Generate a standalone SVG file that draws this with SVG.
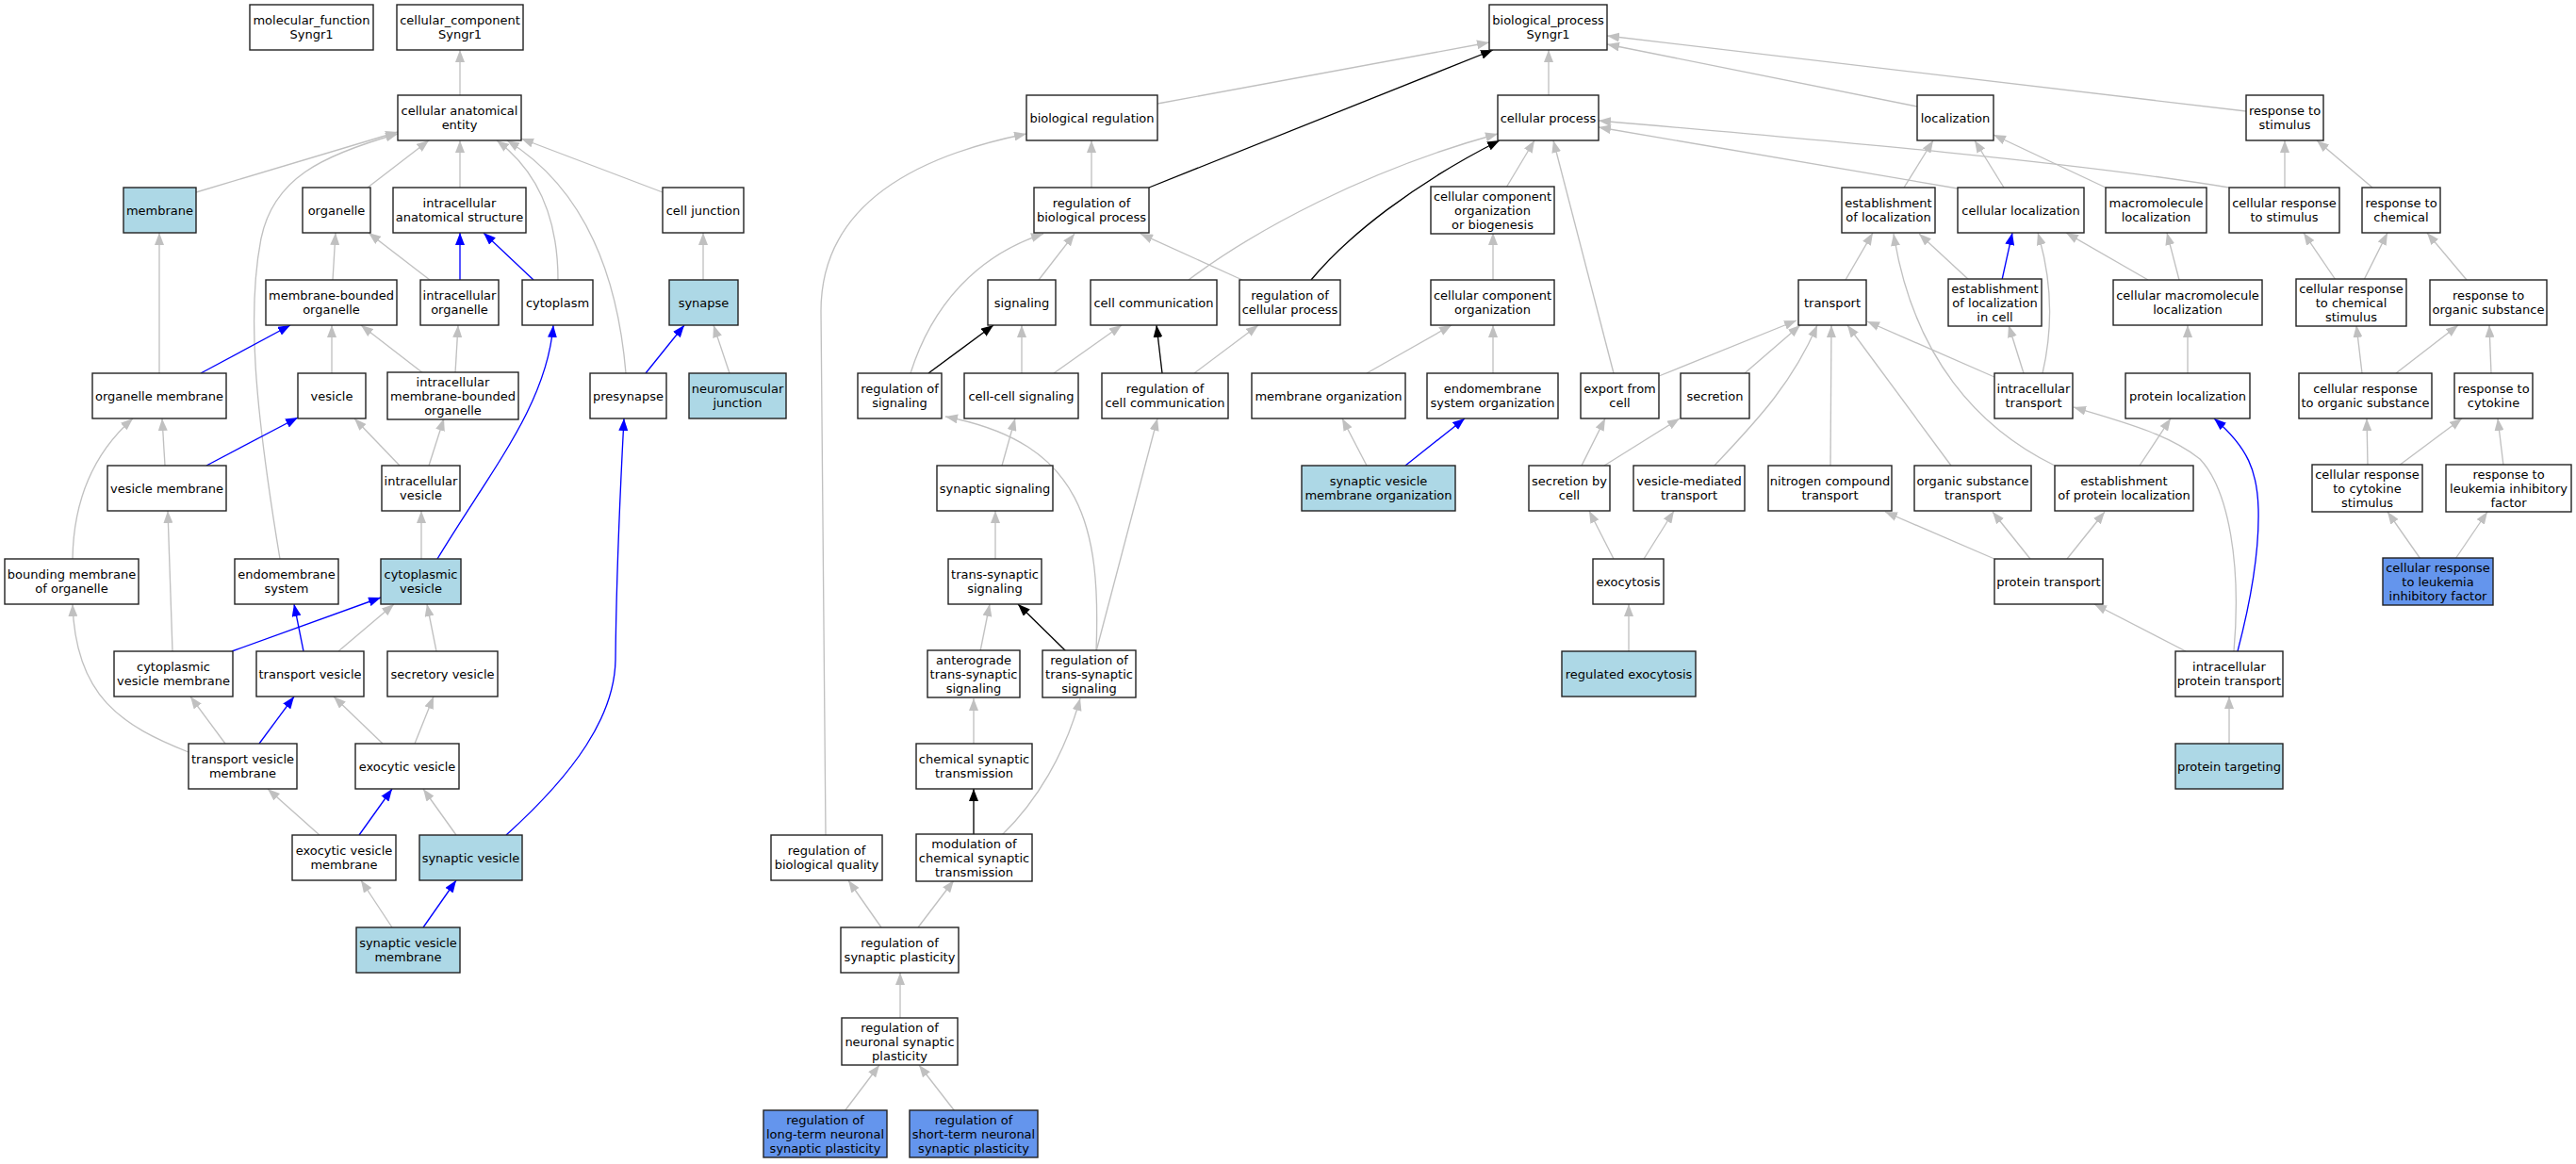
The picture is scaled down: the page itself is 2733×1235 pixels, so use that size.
<svg xmlns="http://www.w3.org/2000/svg" width="2733" height="1235" viewBox="0 0 2733 1235">
<style>
.n rect{fill:#fff;stroke:#222;stroke-width:1.4}
.lb rect{fill:#ADD8E6}
.cb rect{fill:#6495ED}
text{font-family:"DejaVu Sans",Verdana,sans-serif;font-size:13px;text-anchor:middle;fill:#000}
#edges path{fill:none;stroke-width:1.33}
#edges .g{stroke:#C0C0C0;marker-end:url(#ag)}
#edges .b{stroke:#0000FF;marker-end:url(#ab)}
#edges .k{stroke:#000;marker-end:url(#ak)}
</style>
<defs>
<marker id="ag" markerUnits="userSpaceOnUse" markerWidth="13" markerHeight="10" viewBox="0 0 13 10" refX="13" refY="5" orient="auto"><path d="M0,0L13,5L0,10z" fill="#C0C0C0"/></marker>
<marker id="ab" markerUnits="userSpaceOnUse" markerWidth="13" markerHeight="10" viewBox="0 0 13 10" refX="13" refY="5" orient="auto"><path d="M0,0L13,5L0,10z" fill="#0000FF"/></marker>
<marker id="ak" markerUnits="userSpaceOnUse" markerWidth="13" markerHeight="10" viewBox="0 0 13 10" refX="13" refY="5" orient="auto"><path d="M0,0L13,5L0,10z" fill="#000"/></marker>
</defs>
<rect width="2733" height="1235" fill="#fff"/>
<g id="edges">
<path class="g" d="M488,101L488,53"/>
<path class="g" d="M208,204L422,140"/>
<path class="g" d="M297,593C270,430 262,330 277,253C290,190 340,165 422,142"/>
<path class="g" d="M390,199L455,149"/>
<path class="g" d="M488,199L488,149"/>
<path class="g" d="M592,297C592,240 575,185 527,149"/>
<path class="g" d="M664,396C655,290 620,200 538,149"/>
<path class="g" d="M703,204L553,147"/>
<path class="g" d="M353,297L356,247"/>
<path class="g" d="M456,297L391,247"/>
<path class="b" d="M488,297L488,247"/>
<path class="b" d="M566,297L513,247"/>
<path class="g" d="M169,396L169,247"/>
<path class="b" d="M213,396L308,345"/>
<path class="g" d="M352,396L352,345"/>
<path class="g" d="M449,396L383,345"/>
<path class="g" d="M483,396L486,345"/>
<path class="g" d="M746,297L746,247"/>
<path class="b" d="M685,396L726,345"/>
<path class="g" d="M774,396L757,345"/>
<path class="b" d="M464,593C520,500 580,430 587,345"/>
<path class="g" d="M175,494L172,444"/>
<path class="b" d="M219,494L316,443"/>
<path class="g" d="M77,593C78,530 100,480 141,444"/>
<path class="g" d="M424,494L376,444"/>
<path class="g" d="M455,494L471,444"/>
<path class="g" d="M447,593L447,542"/>
<path class="g" d="M183,691L178,542"/>
<path class="b" d="M246,691L404,634"/>
<path class="b" d="M322,691L312,641"/>
<path class="g" d="M359,691L418,641"/>
<path class="g" d="M463,691L453,641"/>
<path class="g" d="M200,798C130,770 80,740 77,641"/>
<path class="g" d="M239,789L202,739"/>
<path class="b" d="M275,789L312,739"/>
<path class="g" d="M406,789L354,739"/>
<path class="g" d="M440,789L460,739"/>
<path class="g" d="M339,886L284,837"/>
<path class="b" d="M381,886L416,837"/>
<path class="g" d="M484,886L449,837"/>
<path class="b" d="M537,886C610,820 652,760 653,700C654,600 658,520 662,444"/>
<path class="g" d="M416,984L383,934"/>
<path class="b" d="M449,984L484,934"/>
<path class="g" d="M1228,110L1580,45"/>
<path class="k" d="M1219,199L1584,53"/>
<path class="g" d="M1643,101L1643,53"/>
<path class="g" d="M2034,113L1705,47"/>
<path class="g" d="M2383,118L1705,38"/>
<path class="g" d="M1158,199L1158,149"/>
<path class="g" d="M876,886L871,330C871,230 950,170 1089,142"/>
<path class="g" d="M966,396C990,320 1040,270 1107,248"/>
<path class="g" d="M1102,297L1140,248"/>
<path class="g" d="M1318,297L1210,248"/>
<path class="g" d="M1261,297C1330,245 1450,180 1589,142"/>
<path class="k" d="M1391,297C1430,250 1500,195 1591,149"/>
<path class="g" d="M1598,199L1628,149"/>
<path class="g" d="M1712,396L1648,149"/>
<path class="g" d="M2077,200L1696,135"/>
<path class="g" d="M2365,199C2200,172 1950,150 1696,128"/>
<path class="g" d="M2020,199L2051,149"/>
<path class="g" d="M2126,199L2095,149"/>
<path class="g" d="M2234,199L2115,143"/>
<path class="g" d="M2424,199L2424,149"/>
<path class="g" d="M2517,199L2458,149"/>
<path class="g" d="M1584,297L1584,247"/>
<path class="g" d="M1450,396L1540,345"/>
<path class="g" d="M1584,396L1584,345"/>
<path class="g" d="M1958,297L1987,247"/>
<path class="g" d="M2089,297L2036,248"/>
<path class="b" d="M2124,297L2135,247"/>
<path class="g" d="M2167,396C2180,340 2175,290 2162,247"/>
<path class="g" d="M2116,400L1981,341"/>
<path class="g" d="M2147,396L2131,345"/>
<path class="g" d="M2180,494C2100,455 2030,380 2009,248"/>
<path class="g" d="M2279,297L2192,247"/>
<path class="g" d="M2312,297L2299,247"/>
<path class="g" d="M2478,297L2444,247"/>
<path class="g" d="M2508,297L2533,247"/>
<path class="g" d="M2617,297L2575,247"/>
<path class="g" d="M2321,396L2321,345"/>
<path class="g" d="M2506,396L2500,345"/>
<path class="g" d="M2542,396L2608,345"/>
<path class="g" d="M2643,396L2641,345"/>
<path class="k" d="M985,396L1054,345"/>
<path class="g" d="M1084,396L1084,345"/>
<path class="g" d="M1118,396L1190,345"/>
<path class="k" d="M1233,396L1227,345"/>
<path class="g" d="M1267,396L1335,345"/>
<path class="g" d="M1063,494L1077,444"/>
<path class="g" d="M1163,691C1168,560 1150,470 1003,442"/>
<path class="g" d="M1163,691L1228,444"/>
<path class="g" d="M1056,593L1056,542"/>
<path class="g" d="M1040,691L1050,641"/>
<path class="k" d="M1131,691L1080,641"/>
<path class="g" d="M1033,789L1033,741"/>
<path class="k" d="M1033,886L1033,837"/>
<path class="g" d="M1063,886C1100,850 1130,800 1146,741"/>
<path class="g" d="M935,984L900,934"/>
<path class="g" d="M974,984L1012,934"/>
<path class="g" d="M955,1081L955,1032"/>
<path class="g" d="M896,1179L933,1130"/>
<path class="g" d="M1013,1179L975,1130"/>
<path class="g" d="M1760,399L1906,340"/>
<path class="g" d="M1851,396L1910,345"/>
<path class="g" d="M1819,494C1860,450 1900,410 1928,345"/>
<path class="g" d="M1942,494L1943,345"/>
<path class="g" d="M2070,494L1960,345"/>
<path class="g" d="M1678,494L1703,444"/>
<path class="g" d="M1702,494L1782,444"/>
<path class="g" d="M1712,593L1686,542"/>
<path class="g" d="M1744,593L1776,542"/>
<path class="g" d="M1728,691L1728,641"/>
<path class="g" d="M1450,494L1424,444"/>
<path class="b" d="M1491,494L1554,444"/>
<path class="g" d="M2116,593L2000,543"/>
<path class="g" d="M2154,593L2114,543"/>
<path class="g" d="M2193,593L2233,543"/>
<path class="g" d="M2270,494L2303,444"/>
<path class="g" d="M2319,691L2222,641"/>
<path class="g" d="M2370,691C2378,600 2365,520 2334,487C2300,460 2250,447 2200,432"/>
<path class="b" d="M2374,691C2390,630 2397,580 2396,540C2395,500 2385,475 2349,444"/>
<path class="g" d="M2365,789L2365,739"/>
<path class="g" d="M2512,494L2511,444"/>
<path class="g" d="M2545,494L2612,444"/>
<path class="g" d="M2656,494L2650,444"/>
<path class="g" d="M2568,593L2533,543"/>
<path class="g" d="M2605,593L2639,543"/>
</g>
<g id="mf" class="n"><rect x="265" y="5" width="131" height="48"/><text x="330.5" y="26.1">molecular_function</text><text x="330.5" y="41.1">Syngr1</text></g>
<g id="cc" class="n"><rect x="421" y="5" width="134" height="48"/><text x="488" y="26.1">cellular_component</text><text x="488" y="41.1">Syngr1</text></g>
<g id="cae" class="n"><rect x="422" y="101" width="131" height="48"/><text x="487.5" y="122.1">cellular anatomical</text><text x="487.5" y="137.1">entity</text></g>
<g id="membrane" class="n lb"><rect x="131" y="199" width="77" height="48"/><text x="169.5" y="227.6">membrane</text></g>
<g id="organelle" class="n"><rect x="321" y="199" width="72" height="48"/><text x="357" y="227.6">organelle</text></g>
<g id="ias" class="n"><rect x="417" y="199" width="141" height="48"/><text x="487.5" y="220.1">intracellular</text><text x="487.5" y="235.1">anatomical structure</text></g>
<g id="cj" class="n"><rect x="703" y="199" width="86" height="48"/><text x="746" y="227.6">cell junction</text></g>
<g id="mbo" class="n"><rect x="282" y="297" width="139" height="48"/><text x="351.5" y="318.1">membrane-bounded</text><text x="351.5" y="333.1">organelle</text></g>
<g id="io" class="n"><rect x="446" y="297" width="83" height="48"/><text x="487.5" y="318.1">intracellular</text><text x="487.5" y="333.1">organelle</text></g>
<g id="cyto" class="n"><rect x="554" y="297" width="75" height="48"/><text x="591.5" y="325.6">cytoplasm</text></g>
<g id="synapse" class="n lb"><rect x="710" y="297" width="73" height="48"/><text x="746.5" y="325.6">synapse</text></g>
<g id="om" class="n"><rect x="98" y="396" width="142" height="48"/><text x="169" y="424.6">organelle membrane</text></g>
<g id="vesicle" class="n"><rect x="316" y="396" width="72" height="48"/><text x="352" y="424.6">vesicle</text></g>
<g id="imbo" class="n"><rect x="411" y="395" width="139" height="50"/><text x="480.5" y="409.6">intracellular</text><text x="480.5" y="424.6">membrane-bounded</text><text x="480.5" y="439.6">organelle</text></g>
<g id="presyn" class="n"><rect x="626" y="396" width="81" height="48"/><text x="666.5" y="424.6">presynapse</text></g>
<g id="nmj" class="n lb"><rect x="731" y="396" width="103" height="48"/><text x="782.5" y="417.1">neuromuscular</text><text x="782.5" y="432.1">junction</text></g>
<g id="vm" class="n"><rect x="114" y="494" width="126" height="48"/><text x="177" y="522.6">vesicle membrane</text></g>
<g id="iv" class="n"><rect x="405" y="494" width="83" height="48"/><text x="446.5" y="515.1">intracellular</text><text x="446.5" y="530.1">vesicle</text></g>
<g id="bmo" class="n"><rect x="5" y="593" width="142" height="48"/><text x="76" y="614.1">bounding membrane</text><text x="76" y="629.1">of organelle</text></g>
<g id="es" class="n"><rect x="249" y="593" width="110" height="48"/><text x="304" y="614.1">endomembrane</text><text x="304" y="629.1">system</text></g>
<g id="cv" class="n lb"><rect x="404" y="593" width="85" height="48"/><text x="446.5" y="614.1">cytoplasmic</text><text x="446.5" y="629.1">vesicle</text></g>
<g id="cvm" class="n"><rect x="121" y="691" width="126" height="48"/><text x="184" y="712.1">cytoplasmic</text><text x="184" y="727.1">vesicle membrane</text></g>
<g id="tv" class="n"><rect x="272" y="691" width="114" height="48"/><text x="329" y="719.6">transport vesicle</text></g>
<g id="sv" class="n"><rect x="411" y="691" width="117" height="48"/><text x="469.5" y="719.6">secretory vesicle</text></g>
<g id="tvm" class="n"><rect x="200" y="789" width="115" height="48"/><text x="257.5" y="810.1">transport vesicle</text><text x="257.5" y="825.1">membrane</text></g>
<g id="ev" class="n"><rect x="377" y="789" width="110" height="48"/><text x="432" y="817.6">exocytic vesicle</text></g>
<g id="evm" class="n"><rect x="310" y="886" width="110" height="48"/><text x="365" y="907.1">exocytic vesicle</text><text x="365" y="922.1">membrane</text></g>
<g id="synv" class="n lb"><rect x="445" y="886" width="109" height="48"/><text x="499.5" y="914.6">synaptic vesicle</text></g>
<g id="svm" class="n lb"><rect x="378" y="984" width="110" height="48"/><text x="433" y="1005.1">synaptic vesicle</text><text x="433" y="1020.1">membrane</text></g>
<g id="bp" class="n"><rect x="1580" y="5" width="125" height="48"/><text x="1642.5" y="26.1">biological_process</text><text x="1642.5" y="41.1">Syngr1</text></g>
<g id="br" class="n"><rect x="1089" y="101" width="139" height="48"/><text x="1158.5" y="129.6">biological regulation</text></g>
<g id="cp" class="n"><rect x="1589" y="101" width="107" height="48"/><text x="1642.5" y="129.6">cellular process</text></g>
<g id="loc" class="n"><rect x="2034" y="101" width="81" height="48"/><text x="2074.5" y="129.6">localization</text></g>
<g id="rts" class="n"><rect x="2383" y="101" width="82" height="48"/><text x="2424" y="122.1">response to</text><text x="2424" y="137.1">stimulus</text></g>
<g id="rbp" class="n"><rect x="1097" y="199" width="122" height="48"/><text x="1158" y="220.1">regulation of</text><text x="1158" y="235.1">biological process</text></g>
<g id="ccob" class="n"><rect x="1518" y="198" width="131" height="50"/><text x="1583.5" y="212.6">cellular component</text><text x="1583.5" y="227.6">organization</text><text x="1583.5" y="242.6">or biogenesis</text></g>
<g id="eol" class="n"><rect x="1954" y="199" width="99" height="48"/><text x="2003.5" y="220.1">establishment</text><text x="2003.5" y="235.1">of localization</text></g>
<g id="cl" class="n"><rect x="2077" y="199" width="134" height="48"/><text x="2144" y="227.6">cellular localization</text></g>
<g id="ml" class="n"><rect x="2234" y="199" width="107" height="48"/><text x="2287.5" y="220.1">macromolecule</text><text x="2287.5" y="235.1">localization</text></g>
<g id="crts" class="n"><rect x="2365" y="199" width="117" height="48"/><text x="2423.5" y="220.1">cellular response</text><text x="2423.5" y="235.1">to stimulus</text></g>
<g id="rtc" class="n"><rect x="2506" y="199" width="83" height="48"/><text x="2547.5" y="220.1">response to</text><text x="2547.5" y="235.1">chemical</text></g>
<g id="sig" class="n"><rect x="1048" y="297" width="72" height="48"/><text x="1084" y="325.6">signaling</text></g>
<g id="cc2" class="n"><rect x="1157" y="297" width="134" height="48"/><text x="1224" y="325.6">cell communication</text></g>
<g id="rcp" class="n"><rect x="1315" y="297" width="107" height="48"/><text x="1368.5" y="318.1">regulation of</text><text x="1368.5" y="333.1">cellular process</text></g>
<g id="cco" class="n"><rect x="1518" y="297" width="131" height="48"/><text x="1583.5" y="318.1">cellular component</text><text x="1583.5" y="333.1">organization</text></g>
<g id="transport" class="n"><rect x="1908" y="297" width="72" height="48"/><text x="1944" y="325.6">transport</text></g>
<g id="eolic" class="n"><rect x="2067" y="296" width="99" height="50"/><text x="2116.5" y="310.6">establishment</text><text x="2116.5" y="325.6">of localization</text><text x="2116.5" y="340.6">in cell</text></g>
<g id="cml" class="n"><rect x="2242" y="297" width="158" height="48"/><text x="2321" y="318.1">cellular macromolecule</text><text x="2321" y="333.1">localization</text></g>
<g id="crcs" class="n"><rect x="2436" y="296" width="117" height="50"/><text x="2494.5" y="310.6">cellular response</text><text x="2494.5" y="325.6">to chemical</text><text x="2494.5" y="340.6">stimulus</text></g>
<g id="ros" class="n"><rect x="2578" y="297" width="124" height="48"/><text x="2640" y="318.1">response to</text><text x="2640" y="333.1">organic substance</text></g>
<g id="rsig" class="n"><rect x="910" y="396" width="89" height="48"/><text x="954.5" y="417.1">regulation of</text><text x="954.5" y="432.1">signaling</text></g>
<g id="ccs" class="n"><rect x="1023" y="396" width="121" height="48"/><text x="1083.5" y="424.6">cell-cell signaling</text></g>
<g id="rcc" class="n"><rect x="1169" y="396" width="134" height="48"/><text x="1236" y="417.1">regulation of</text><text x="1236" y="432.1">cell communication</text></g>
<g id="mo" class="n"><rect x="1328" y="396" width="163" height="48"/><text x="1409.5" y="424.6">membrane organization</text></g>
<g id="eso" class="n"><rect x="1514" y="396" width="139" height="48"/><text x="1583.5" y="417.1">endomembrane</text><text x="1583.5" y="432.1">system organization</text></g>
<g id="efc" class="n"><rect x="1677" y="396" width="83" height="48"/><text x="1718.5" y="417.1">export from</text><text x="1718.5" y="432.1">cell</text></g>
<g id="secretion" class="n"><rect x="1783" y="396" width="73" height="48"/><text x="1819.5" y="424.6">secretion</text></g>
<g id="it" class="n"><rect x="2116" y="396" width="83" height="48"/><text x="2157.5" y="417.1">intracellular</text><text x="2157.5" y="432.1">transport</text></g>
<g id="pl" class="n"><rect x="2255" y="396" width="132" height="48"/><text x="2321" y="424.6">protein localization</text></g>
<g id="cros" class="n"><rect x="2439" y="396" width="141" height="48"/><text x="2509.5" y="417.1">cellular response</text><text x="2509.5" y="432.1">to organic substance</text></g>
<g id="rtcyt" class="n"><rect x="2604" y="396" width="83" height="48"/><text x="2645.5" y="417.1">response to</text><text x="2645.5" y="432.1">cytokine</text></g>
<g id="ss" class="n"><rect x="994" y="494" width="123" height="48"/><text x="1055.5" y="522.6">synaptic signaling</text></g>
<g id="svmo" class="n lb"><rect x="1381" y="494" width="163" height="48"/><text x="1462.5" y="515.1">synaptic vesicle</text><text x="1462.5" y="530.1">membrane organization</text></g>
<g id="sbc" class="n"><rect x="1622" y="494" width="86" height="48"/><text x="1665" y="515.1">secretion by</text><text x="1665" y="530.1">cell</text></g>
<g id="vmt" class="n"><rect x="1733" y="494" width="118" height="48"/><text x="1792" y="515.1">vesicle-mediated</text><text x="1792" y="530.1">transport</text></g>
<g id="nct" class="n"><rect x="1876" y="494" width="131" height="48"/><text x="1941.5" y="515.1">nitrogen compound</text><text x="1941.5" y="530.1">transport</text></g>
<g id="ost" class="n"><rect x="2031" y="494" width="124" height="48"/><text x="2093" y="515.1">organic substance</text><text x="2093" y="530.1">transport</text></g>
<g id="epl" class="n"><rect x="2180" y="494" width="147" height="48"/><text x="2253.5" y="515.1">establishment</text><text x="2253.5" y="530.1">of protein localization</text></g>
<g id="crcyt" class="n"><rect x="2453" y="493" width="117" height="50"/><text x="2511.5" y="507.6">cellular response</text><text x="2511.5" y="522.6">to cytokine</text><text x="2511.5" y="537.6">stimulus</text></g>
<g id="rlif" class="n"><rect x="2595" y="493" width="133" height="50"/><text x="2661.5" y="507.6">response to</text><text x="2661.5" y="522.6">leukemia inhibitory</text><text x="2661.5" y="537.6">factor</text></g>
<g id="tss" class="n"><rect x="1006" y="593" width="99" height="48"/><text x="1055.5" y="614.1">trans-synaptic</text><text x="1055.5" y="629.1">signaling</text></g>
<g id="exo" class="n"><rect x="1690" y="593" width="75" height="48"/><text x="1727.5" y="621.6">exocytosis</text></g>
<g id="pt" class="n"><rect x="2116" y="593" width="115" height="48"/><text x="2173.5" y="621.6">protein transport</text></g>
<g id="crlif" class="n cb"><rect x="2528" y="592" width="117" height="50"/><text x="2586.5" y="606.6">cellular response</text><text x="2586.5" y="621.6">to leukemia</text><text x="2586.5" y="636.6">inhibitory factor</text></g>
<g id="atss" class="n"><rect x="984" y="690" width="98" height="50"/><text x="1033" y="704.6">anterograde</text><text x="1033" y="719.6">trans-synaptic</text><text x="1033" y="734.6">signaling</text></g>
<g id="rtss" class="n"><rect x="1106" y="690" width="99" height="50"/><text x="1155.5" y="704.6">regulation of</text><text x="1155.5" y="719.6">trans-synaptic</text><text x="1155.5" y="734.6">signaling</text></g>
<g id="rexo" class="n lb"><rect x="1657" y="691" width="142" height="48"/><text x="1728" y="719.6">regulated exocytosis</text></g>
<g id="ipt" class="n"><rect x="2308" y="691" width="114" height="48"/><text x="2365" y="712.1">intracellular</text><text x="2365" y="727.1">protein transport</text></g>
<g id="cst" class="n"><rect x="972" y="789" width="123" height="48"/><text x="1033.5" y="810.1">chemical synaptic</text><text x="1033.5" y="825.1">transmission</text></g>
<g id="ptarg" class="n lb"><rect x="2308" y="789" width="114" height="48"/><text x="2365" y="817.6">protein targeting</text></g>
<g id="rbq" class="n"><rect x="818" y="886" width="118" height="48"/><text x="877" y="907.1">regulation of</text><text x="877" y="922.1">biological quality</text></g>
<g id="mcst" class="n"><rect x="972" y="885" width="123" height="50"/><text x="1033.5" y="899.6">modulation of</text><text x="1033.5" y="914.6">chemical synaptic</text><text x="1033.5" y="929.6">transmission</text></g>
<g id="rsp" class="n"><rect x="892" y="984" width="125" height="48"/><text x="954.5" y="1005.1">regulation of</text><text x="954.5" y="1020.1">synaptic plasticity</text></g>
<g id="rnsp" class="n"><rect x="893" y="1080" width="123" height="50"/><text x="954.5" y="1094.6">regulation of</text><text x="954.5" y="1109.6">neuronal synaptic</text><text x="954.5" y="1124.6">plasticity</text></g>
<g id="rltnsp" class="n cb"><rect x="810" y="1178" width="131" height="50"/><text x="875.5" y="1192.6">regulation of</text><text x="875.5" y="1207.6">long-term neuronal</text><text x="875.5" y="1222.6">synaptic plasticity</text></g>
<g id="rstnsp" class="n cb"><rect x="965" y="1178" width="136" height="50"/><text x="1033" y="1192.6">regulation of</text><text x="1033" y="1207.6">short-term neuronal</text><text x="1033" y="1222.6">synaptic plasticity</text></g>
</svg>
